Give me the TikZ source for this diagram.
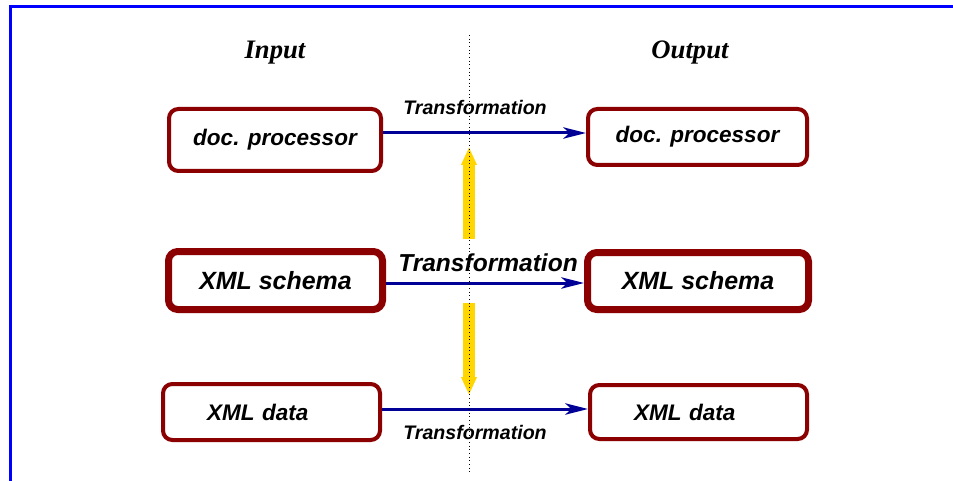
\documentclass[tikz,border=0pt]{standalone}
\usepackage{fontspec}
\setmainfont{Liberation Serif}
\setsansfont{Liberation Sans}
\usetikzlibrary{arrows.meta}
\definecolor{boxred}{RGB}{139,0,0}
\definecolor{flownavy}{RGB}{0,0,150}
\definecolor{liftgold}{RGB}{255,214,0}
\definecolor{framebl}{RGB}{0,0,255}

\begin{document}
\begin{tikzpicture}[x=0.75pt,y=-0.75pt,
	docbox/.style={draw=boxred, line width=3pt, rounded corners=7pt, fill=white,
		font=\sffamily\bfseries\itshape\fontsize{16.9}{20}\selectfont},
	schemabox/.style={docbox, line width=5.25pt,
		font=\sffamily\bfseries\itshape\fontsize{18.7}{22}\selectfont},
	databox/.style={docbox, inner xsep=33pt, text width=96.75pt, align=left},
	flow/.style={draw=flownavy, line width=2.25pt, -{Stealth[length=17pt,width=8.5pt,inset=4.5pt]}},
	lift/.style={draw=liftgold, line width=9pt, -{Triangle[length=13.5pt,width=11pt]}},
	title/.style={font=\bfseries\itshape\fontsize{20}{24}\selectfont, anchor=base},
	trans/.style={font=\sffamily\bfseries\itshape\fontsize{14.7}{17}\selectfont, anchor=base},
	bigtrans/.style={trans, font=\sffamily\bfseries\itshape\fontsize{18.4}{22}\selectfont}]
\useasboundingbox (0,0) rectangle (953,481);

% frame
\draw[framebl, line width=2.25pt] (953,7) -- (10,7) -- (10,481);

% titles
\node[title] (inTitle) at (275,59) {Input};
\node[title] (outTitle) at (690,59) {Output};

% boxes
\node[docbox, minimum width=159pt, minimum height=46.5pt] (inDoc) at (275,140) {doc. processor};
\node[docbox, minimum width=164.25pt, minimum height=42pt] (outDoc) at (697.5,137) {doc. processor};

\node[schemabox, minimum width=160.5pt, minimum height=43.5pt] (inSchema) at (275.5,280.5) {XML schema};
\node[schemabox, minimum width=165.75pt, minimum height=42.75pt] (outSchema) at (698,281) {XML schema};

\node[databox, minimum height=42pt] (inData) at (271.5,412) {XML data};
\node[databox, minimum height=40.5pt] (outData) at (698.5,412) {XML data};

% transformations
\coordinate (rowDoc) at (0,133);
\coordinate (rowSchema) at (0,283);
\coordinate (rowData) at (0,409);

\draw[flow] (inDoc.east |- rowDoc) -- (outDoc.west |- rowDoc);
\draw[flow] (inSchema.east |- rowSchema) -- (outSchema.west |- rowSchema);
\draw[flow] (inData.east |- rowData) -- (outData.west |- rowData);

\node[trans] (transDoc) at (475,115) {Transformation};
\node[bigtrans] (transSchema) at (488,271) {Transformation};
\node[trans] (transData) at (475,439) {Transformation};

% schema drives the other two
\draw[lift] (469,239) -- (469,147);
\draw[lift] (469,303) -- (469,395);

\draw[dotted, line width=0.75pt] (469,35) -- (469,473);
\end{tikzpicture}
\end{document}
